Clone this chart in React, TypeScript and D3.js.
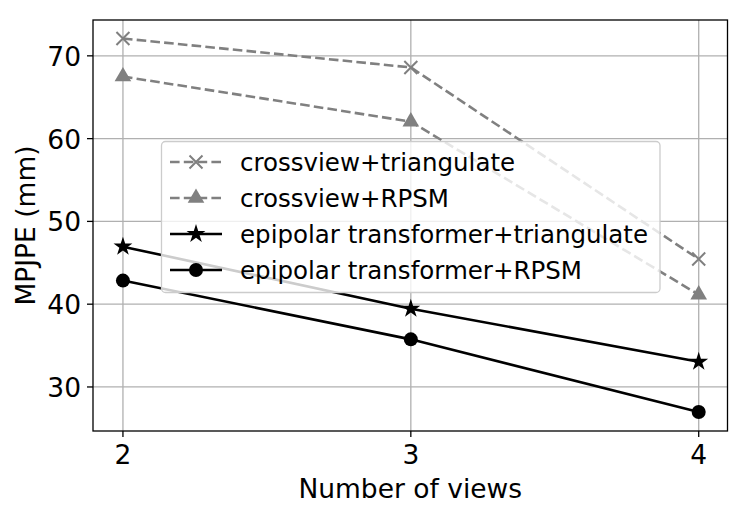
import React from "react";
import * as d3 from "d3";

const views = [2, 3, 4];
const crossTri = [72.1, 68.6, 45.45];
const crossRPSM = [67.5, 62.05, 41.15];
const epiTri = [46.95, 39.45, 33.05];
const epiRPSM = [42.85, 35.75, 26.98];
const xTicks = [2, 3, 4];
const yTicks = [30, 40, 50, 60, 70];

const seriesList = [
  { name: "crossview+triangulate", values: crossTri, color: "#808080", dashed: true, marker: "x" },
  { name: "crossview+RPSM", values: crossRPSM, color: "#808080", dashed: true, marker: "tri" },
  { name: "epipolar transformer+triangulate", values: epiTri, color: "#000000", dashed: false, marker: "star" },
  { name: "epipolar transformer+RPSM", values: epiRPSM, color: "#000000", dashed: false, marker: "circle" },
];

const W = 748, H = 517;
const L = 93, R = 727.5, T = 20, B = 431;
const FONT = "DejaVu Sans, sans-serif";

function Marker({ type, x, y, color }: { type: string; x: number; y: number; color: string }) {
  if (type === "x") {
    const s = 6.5;
    return (
      <path d={`M${x - s},${y - s}L${x + s},${y + s}M${x - s},${y + s}L${x + s},${y - s}`} stroke={color} strokeWidth={2} fill="none" />
    );
  }
  if (type === "tri") {
    const p = d3.symbol(d3.symbolTriangle, 120)();
    return <path d={p || ""} transform={`translate(${x},${y})`} fill={color} />;
  }
  if (type === "star") {
    const p = d3.symbol(d3.symbolStar, 110)();
    return <path d={p || ""} transform={`translate(${x},${y})`} fill={color} />;
  }
  return <circle cx={x} cy={y} r={7} fill={color} />;
}

export default function App() {
  const x = d3.scaleLinear().domain([1.896, 4.1]).range([L, R]);
  const y = d3.scaleLinear().domain([24.68, 74.33]).range([B, T]);
  const line = d3.line<number>().x((_, i) => x(views[i])).y((d) => y(d));

  const legX = 161.5, legY = 141.5, legW = 498.5, legH = 151;
  const rowY = [162, 198, 234, 270];

  return (
    <svg width={W} height={H} style={{ position: "absolute", left: 0, top: 0 }} fontFamily={FONT}>
      <rect width={W} height={H} fill="#fff" />
      {xTicks.map((t) => (
        <line key={"gx" + t} x1={x(t)} x2={x(t)} y1={T} y2={B} stroke="#b0b0b0" strokeWidth={1.3} />
      ))}
      {yTicks.map((t) => (
        <line key={"gy" + t} x1={L} x2={R} y1={y(t)} y2={y(t)} stroke="#b0b0b0" strokeWidth={1.3} />
      ))}
      {seriesList.map((s) => (
        <g key={s.name}>
          <path d={line(s.values) || ""} fill="none" stroke={s.color} strokeWidth={2.6}
            strokeDasharray={s.dashed ? "9.6,4.2" : undefined} />
          {s.values.map((v, i) => (
            <Marker key={i} type={s.marker} x={x(views[i])} y={y(v)} color={s.color} />
          ))}
        </g>
      ))}
      <rect x={L} y={T} width={R - L} height={B - T} fill="none" stroke="#000" strokeWidth={1.3} />
      {xTicks.map((t) => (
        <g key={"xt" + t}>
          <line x1={x(t)} x2={x(t)} y1={B} y2={B + 6} stroke="#000" strokeWidth={1.3} />
          <text x={x(t)} y={464} textAnchor="middle" fontSize={26.5}>{t}</text>
        </g>
      ))}
      {yTicks.map((t) => (
        <g key={"yt" + t}>
          <line x1={L - 6} x2={L} y1={y(t)} y2={y(t)} stroke="#000" strokeWidth={1.3} />
          <text x={L - 12} y={y(t) + 10} textAnchor="end" fontSize={26.5}>{t}</text>
        </g>
      ))}
      <text x={(L + R) / 2} y={498} textAnchor="middle" fontSize={26.5}>Number of views</text>
      <text transform={`translate(35,${(T + B) / 2}) rotate(-90)`} textAnchor="middle" fontSize={26.5}>MPJPE (mm)</text>
      <rect x={legX} y={legY} width={legW} height={legH} rx={4} fill="#fff" fillOpacity={0.8} stroke="#cccccc" strokeWidth={1.3} />
      {seriesList.map((s, i) => (
        <g key={"lg" + s.name}>
          <line x1={170} x2={222} y1={rowY[i]} y2={rowY[i]} stroke={s.color} strokeWidth={2.6}
            strokeDasharray={s.dashed ? "9.6,4.2" : undefined} />
          <Marker type={s.marker} x={196} y={rowY[i]} color={s.color} />
          <text x={240} y={rowY[i] + 8.5} fontSize={24.5}>{s.name}</text>
        </g>
      ))}
    </svg>
  );
}
